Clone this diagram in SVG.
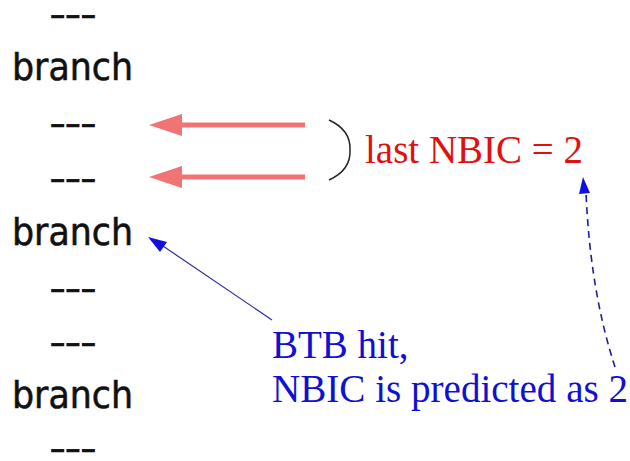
<svg xmlns="http://www.w3.org/2000/svg" width="630" height="461" viewBox="0 0 630 461">
  <defs>
    <style>
      .code { font-family: "DejaVu Sans", "Liberation Sans", sans-serif; font-size: 38px; fill: #111; stroke: #111; stroke-width: 0.6; }
      .dash { font-family: "Liberation Sans", Arial, sans-serif; font-weight: bold; font-size: 22px; fill: #111; stroke: #111; stroke-width: 0.6; }
      .red { font-family: "Liberation Serif", "Times New Roman", serif; font-size: 39px; fill: #e01010; }
      .blue { font-family: "Liberation Serif", "Times New Roman", serif; font-size: 39px; fill: #1010d0; }
      .pink { stroke: #f07474; stroke-width: 5; fill: none; }
      .pinkhead { fill: #f07474; }
    </style>
  </defs>

  <rect width="630" height="461" fill="#ffffff"/>

  <!-- instruction stream -->
  <g id="instr0"><text class="dash" x="50" y="21.5" textLength="46" lengthAdjust="spacingAndGlyphs">---</text></g>
  <g id="branch1"><text class="code" x="12" y="80" textLength="121" lengthAdjust="spacingAndGlyphs">branch</text></g>
  <g id="instr1"><text class="dash" x="50" y="131.2" textLength="46" lengthAdjust="spacingAndGlyphs">---</text></g>
  <g id="instr2"><text class="dash" x="50" y="186.2" textLength="46" lengthAdjust="spacingAndGlyphs">---</text></g>
  <g id="branch2"><text class="code" x="12" y="245" textLength="121" lengthAdjust="spacingAndGlyphs">branch</text></g>
  <g id="instr3"><text class="dash" x="50" y="296.2" textLength="46" lengthAdjust="spacingAndGlyphs">---</text></g>
  <g id="instr4"><text class="dash" x="50" y="350.2" textLength="46" lengthAdjust="spacingAndGlyphs">---</text></g>
  <g id="branch3"><text class="code" x="12" y="408" textLength="121" lengthAdjust="spacingAndGlyphs">branch</text></g>
  <g id="instr5"><text class="dash" x="50" y="456.2" textLength="46" lengthAdjust="spacingAndGlyphs">---</text></g>

  <!-- annotations -->
  <g id="last-nbic">
    <path d="M329,120 Q351,130 350,150 Q351,170 329,180" fill="none" stroke="#222" stroke-width="1.5"/>
    <text class="red" x="365" y="163" textLength="218" lengthAdjust="spacingAndGlyphs">last NBIC = 2</text>
  </g>
  <g id="btb-hit">
    <text class="blue" x="272" y="358">BTB hit,</text>
    <text class="blue" x="272" y="402" textLength="356" lengthAdjust="spacingAndGlyphs">NBIC is predicted as 2</text>
  </g>

  <!-- connectors -->
  <g id="connectors">
    <line class="pink" x1="305" y1="125" x2="178" y2="125"/>
    <polygon class="pinkhead" points="149,125 182,114 182,136"/>
    <line class="pink" x1="305" y1="177" x2="178" y2="177"/>
    <polygon class="pinkhead" points="149,177 182,166 182,188"/>

    <line x1="272" y1="320" x2="160" y2="244" stroke="#2a2aa8" stroke-width="1.2"/>
    <polygon points="148,237 167,242 160,252" fill="#1010e0"/>

    <path d="M615,367 Q590,290 586,192" fill="none" stroke="#1c1c9c" stroke-width="1.6" stroke-dasharray="7,5"/>
    <polygon points="583,177 590,193 579,194" fill="#1010e0"/>
  </g>
</svg>
